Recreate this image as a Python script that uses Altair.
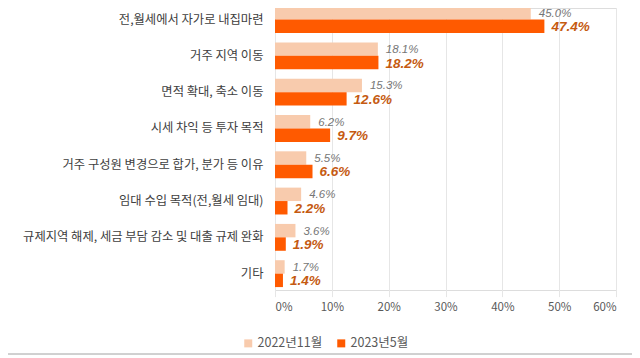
import altair as alt
import pandas as pd

categories = [
    "전,월세에서 자가로 내집마련",
    "거주 지역 이동",
    "면적 확대, 축소 이동",
    "시세 차익 등 투자 목적",
    "거주 구성원 변경으로 합가, 분가 등 이유",
    "임대 수입 목적(전,월세 임대)",
    "규제지역 해제, 세금 부담 감소 및 대출 규제 완화",
    "기타",
]
series = ["2022년11월", "2023년5월"]
values_2022 = [45.0, 18.1, 15.3, 6.2, 5.5, 4.6, 3.6, 1.7]
values_2023 = [47.4, 18.2, 12.6, 9.7, 6.6, 2.2, 1.9, 1.4]
x_ticks = [0, 10, 20, 30, 40, 50, 60]
colors = ["#F8CBAD", "#FF5A00"]

rows = []
for c, a, b in zip(categories, values_2022, values_2023):
    rows.append({"cat": c, "series": series[0], "v": a, "label": f"{a:.1f}%"})
    rows.append({"cat": c, "series": series[1], "v": b, "label": f"{b:.1f}%"})
df = pd.DataFrame(rows)

y_enc = alt.Y(
    "cat:N",
    sort=categories,
    scale=alt.Scale(range=[-6.6, 283.8], paddingInner=0.26, paddingOuter=0.13),
    axis=alt.Axis(
        title=None, ticks=False, domain=False, labelPadding=12,
        labelFont="Noto Sans CJK KR", labelFontSize=12.3, labelColor="#404040",
        labelLimit=300,
    ),
)
x_enc = alt.X(
    "v:Q",
    scale=alt.Scale(domain=[0, 60], nice=False),
    axis=alt.Axis(
        title=None, values=x_ticks, labelExpr="datum.value + '%'", ticks=False,
        domain=False, grid=True, gridColor="#E6E6E6", labelPadding=11,
        labelFont="Noto Sans CJK KR", labelFontSize=11.5, labelColor="#595959",
    ),
)
yoff = alt.YOffset("series:N", sort=series)

bars = alt.Chart(df).mark_bar().encode(
    x=x_enc,
    y=y_enc,
    yOffset=yoff,
    color=alt.Color(
        "series:N",
        sort=series,
        scale=alt.Scale(domain=series, range=colors),
        legend=alt.Legend(
            title=None, orient="none", direction="horizontal",
            legendX=-33, legendY=329, symbolType="square", symbolSize=64,
            symbolStrokeWidth=0, labelFont="Noto Sans CJK KR", labelFontSize=12.5,
            labelColor="#595959", columnPadding=12, labelOffset=3,
        ),
    ),
)

lab22 = alt.Chart(df).transform_filter(alt.datum.series == series[0]).mark_text(
    align="left", baseline="middle", dx=8, dy=1, font="Liberation Sans",
    fontSize=11.5, fontStyle="italic", color="#767676",
).encode(x="v:Q", y=alt.Y("cat:N", sort=categories), yOffset=yoff, text="label:N")

lab23 = alt.Chart(df).transform_filter(alt.datum.series == series[1]).mark_text(
    align="left", baseline="middle", dx=7, dy=1, font="Liberation Sans",
    fontSize=13.5, fontStyle="italic", fontWeight="bold", color="#C55A11",
).encode(x="v:Q", y=alt.Y("cat:N", sort=categories), yOffset=yoff, text="label:N")

frame_r = alt.Chart(df).mark_rule(color="#D0D0D0").encode(
    x=alt.value(362), y=alt.value(-8), y2=alt.value(346)
)
frame_b = alt.Chart(df).mark_rule(color="#D0D0D0").encode(
    x=alt.value(-267), x2=alt.value(362), y=alt.value(346)
)

chart = alt.layer(bars, lab22, lab23, frame_r, frame_b).properties(
    width=341, height=282,
    autosize=alt.AutoSizeParams(type="none"),
    padding={"left": 267, "top": 0, "right": 16, "bottom": 68},
).configure_view(stroke=None).configure(background="white")

chart.save("out.html", embed_options={"renderer": "svg", "actions": False})
